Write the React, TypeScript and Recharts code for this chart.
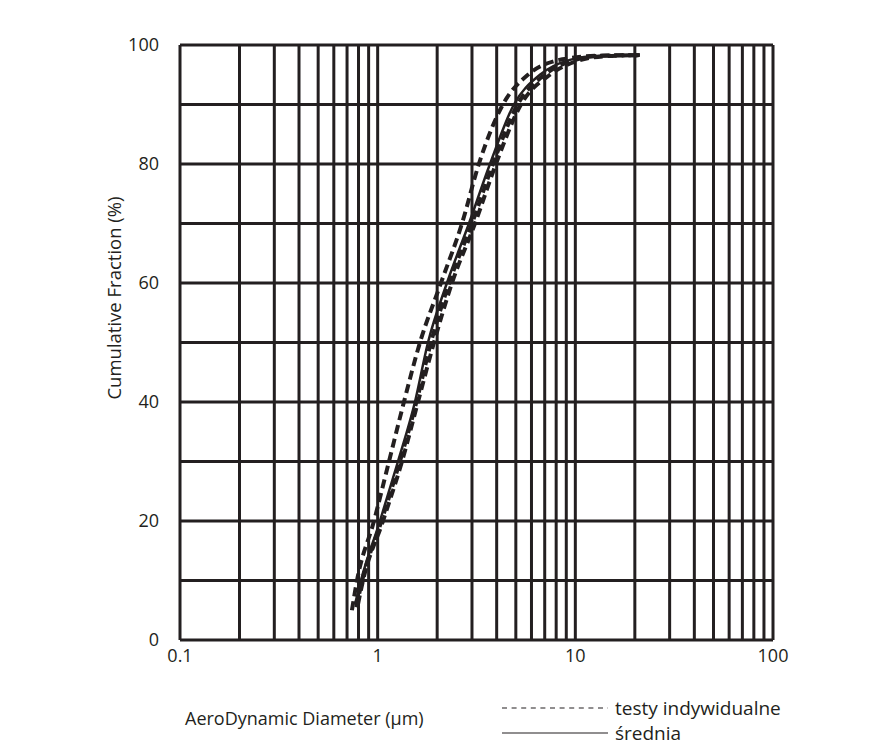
import { CartesianGrid, Line, LineChart, XAxis, YAxis } from 'recharts';

// diameter (µm) / cumulative fraction (%)
const meanD = [0.768, 0.823, 1.027, 1.267, 1.544, 1.797, 2.241, 2.896, 3.7, 4.89, 6.62, 9.39, 13.3, 21.2];
const meanF = [6, 10, 20, 30, 40, 50, 60, 70, 80, 90, 95, 97.5, 98.2, 98.3];

const testAD = [0.741, 0.786, 0.958, 1.141, 1.358, 1.637, 2.09, 2.67, 3.25, 4.3, 5.76, 8.6, 13.0, 21.2];
const testAF = [5, 10, 20, 30, 40, 50, 60, 70, 80, 90, 95, 97.6, 98.2, 98.3];

const testBD = [0.795, 0.843, 1.064, 1.327, 1.599, 1.927, 2.376, 3.107, 3.965, 5.31, 7.44, 10.2, 14.0, 21.2];
const testBF = [6, 10, 20, 30, 40, 50, 60, 70, 80, 90, 95, 97.3, 98.1, 98.3];

const testCD = [0.78, 0.835, 1.045, 1.295, 1.57, 1.86, 2.3, 3.0, 3.83, 5.1, 7.0, 9.8, 13.6, 21.2];
const testCF = [5.5, 10, 20, 30, 40, 50, 60, 70, 80, 90, 95, 97.4, 98.2, 98.3];

const xTicks = [
  0.1, 0.2, 0.3, 0.4, 0.5, 0.6, 0.7, 0.8, 0.9,
  1, 2, 3, 4, 5, 6, 7, 8, 9,
  10, 20, 30, 40, 50, 60, 70, 80, 90, 100,
];
const xLabels = [0.1, 1, 10, 100];
const yTicks = [0, 10, 20, 30, 40, 50, 60, 70, 80, 90, 100];

const ink = '#231f20';
const font = '"Open Sans", sans-serif';

const toPoints = (d: number[], f: number[]) => d.map((x, i) => ({ x, y: f[i] }));

export default function App() {
  const tick = { fill: ink, fontSize: 18, fontFamily: font };
  return (
    <div style={{ position: 'absolute', left: 0, top: 0, width: 890, height: 753, background: '#fff' }}>
      <LineChart width={890} height={753} margin={{ top: 45, right: 57, bottom: 73, left: 120 }}>
        <CartesianGrid yAxisId="l" stroke={ink} strokeWidth={3} />
        <XAxis
          dataKey="x"
          type="number"
          scale="log"
          domain={[0.1, 100]}
          ticks={xTicks}
          interval={0}
          tickFormatter={(v: number) => (xLabels.includes(v) ? String(v) : '')}
          height={40}
          tickSize={0}
          tickMargin={9}
          axisLine={false}
          tick={tick}
          allowDataOverflow
        />
        <YAxis
          yAxisId="l"
          type="number"
          domain={[0, 100]}
          ticks={yTicks}
          interval={0}
          tickFormatter={(v: number) => (v % 20 === 0 ? String(v) : '')}
          width={60}
          tickSize={0}
          tickMargin={21}
          axisLine={false}
          tick={tick}
        />
        <YAxis
          yAxisId="r"
          orientation="right"
          type="number"
          domain={[0, 100]}
          ticks={[100]}
          interval={0}
          width={60}
          tickSize={0}
          tickMargin={9}
          axisLine={false}
          tick={tick}
        />
        <Line yAxisId="l" data={toPoints(testAD, testAF)} dataKey="y" type="monotone" stroke={ink} strokeWidth={4} strokeDasharray="9 5" dot={false} isAnimationActive={false} />
        <Line yAxisId="l" data={toPoints(testBD, testBF)} dataKey="y" type="monotone" stroke={ink} strokeWidth={4} strokeDasharray="9 5" dot={false} isAnimationActive={false} />
        <Line yAxisId="l" data={toPoints(testCD, testCF)} dataKey="y" type="monotone" stroke={ink} strokeWidth={4} strokeDasharray="9 5" dot={false} isAnimationActive={false} />
        <Line yAxisId="l" data={toPoints(meanD, meanF)} dataKey="y" type="monotone" stroke={ink} strokeWidth={2.5} dot={false} isAnimationActive={false} />
      </LineChart>

      <div
        style={{
          position: 'absolute', left: 113, top: 298, transform: 'translate(-50%, -50%) rotate(-90deg)',
          whiteSpace: 'nowrap', fontFamily: font, fontSize: 18.5, color: ink,
        }}
      >
        Cumulative Fraction (%)
      </div>
      <div style={{ position: 'absolute', left: 185, top: 705, fontFamily: font, fontSize: 18, lineHeight: '26px', color: ink, whiteSpace: 'nowrap' }}>
        AeroDynamic Diameter (µm)
      </div>
      <div style={{ position: 'absolute', left: 502, top: 695, fontFamily: font, fontSize: 19, color: ink, whiteSpace: 'nowrap' }}>
        <div style={{ display: 'flex', alignItems: 'center', height: 25 }}>
          <svg width={106} height={4}><line x1={0} y1={2} x2={106} y2={2} stroke={ink} strokeWidth={1.2} strokeDasharray="5 4.6" /></svg>
          <span style={{ marginLeft: 7 }}>testy indywidualne</span>
        </div>
        <div style={{ display: 'flex', alignItems: 'center', height: 25 }}>
          <svg width={106} height={4}><line x1={0} y1={2} x2={106} y2={2} stroke={ink} strokeWidth={1.2} /></svg>
          <span style={{ marginLeft: 7 }}>średnia</span>
        </div>
      </div>
    </div>
  );
}
